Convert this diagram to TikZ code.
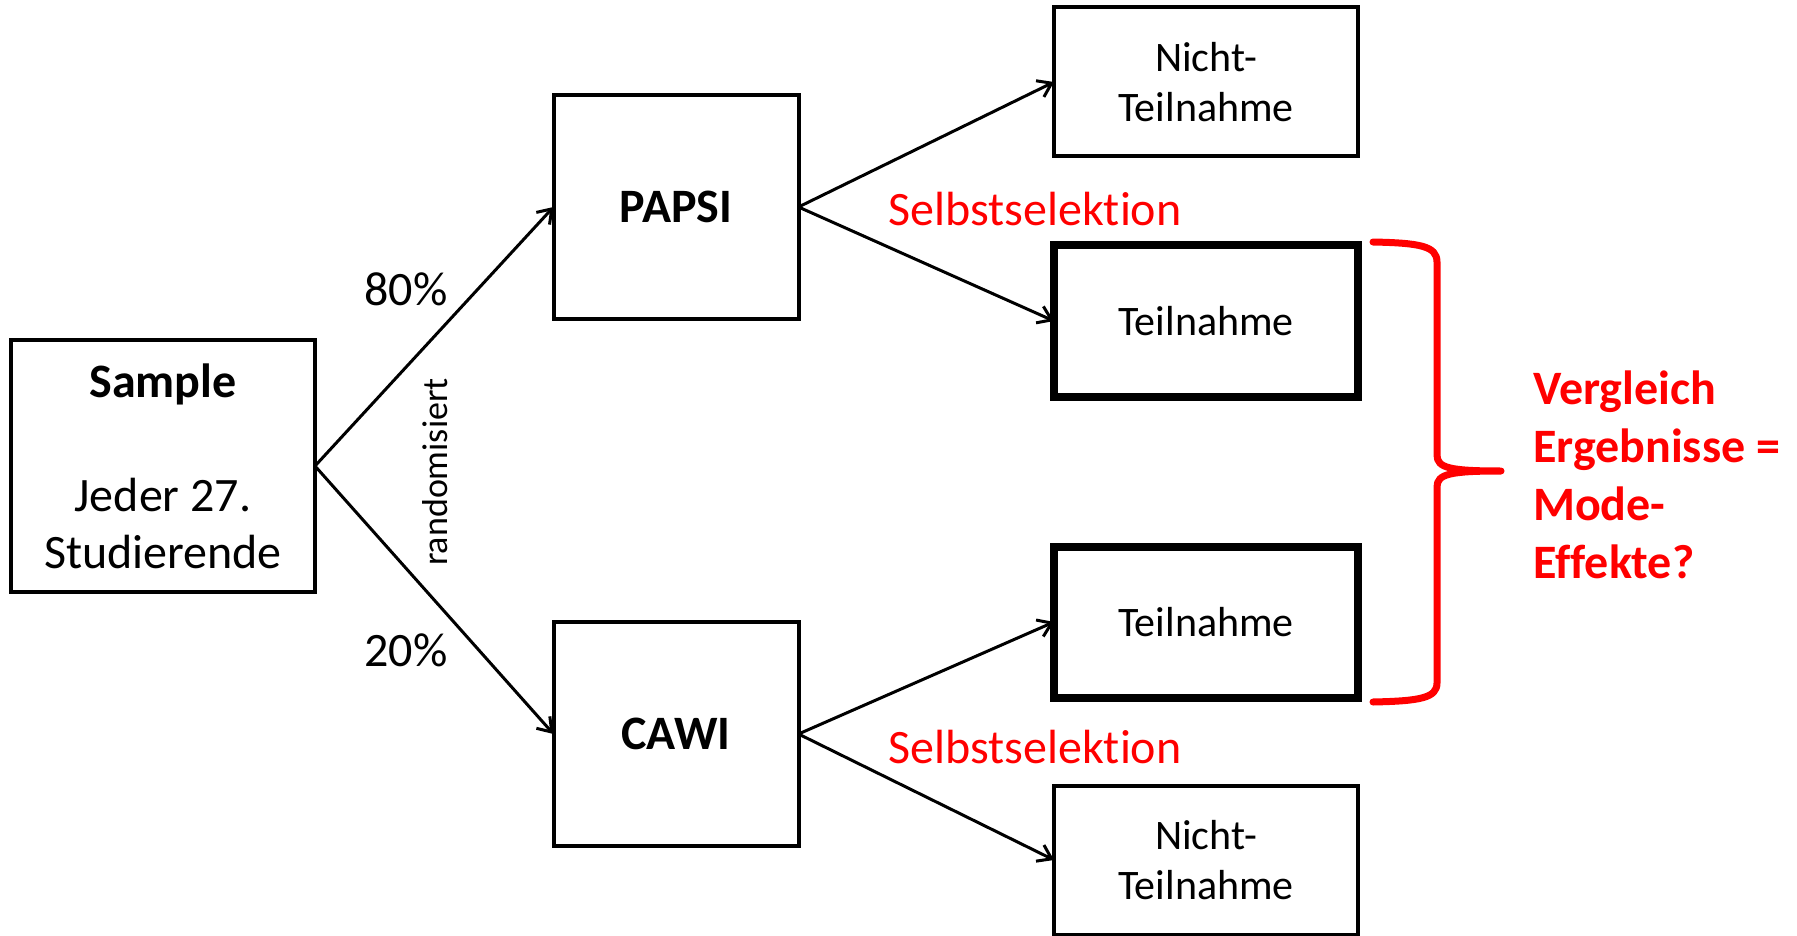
\documentclass[tikz,border=0pt]{standalone}
\usepackage{fontspec}
\setmainfont[Ligatures=NoCommon]{Carlito}
\usetikzlibrary{arrows.meta,shadows}
\definecolor{myred}{RGB}{255,0,0}
\begin{document}
\begin{tikzpicture}[x=1pt,y=-1pt,
  box/.style={draw=black,line width=4pt,fill=white,inner sep=0pt,outer sep=0pt,align=center,font=\fontsize{42}{50}\selectfont},
  thickbox/.style={box,line width=8pt,drop shadow={shadow xshift=2pt,shadow yshift=-4pt,opacity=0.25}},
  conn/.style={line width=3pt,-{Straight Barb[length=13pt,width=18pt,line width=3pt]}},
  lbl/.style={font=\fontsize{48}{57}\selectfont,inner sep=0pt},
  redlbl/.style={lbl,text=myred}]
\useasboundingbox (0,0) rectangle (1797,936);
\fill[white] (0,0) rectangle (1797,936);
\node[box,minimum width=304pt,minimum height=252pt,font=\fontsize{48}{57}\selectfont] (sample) at (163,466) {\textbf{Sample}\\[57pt]Jeder 27.\\Studierende};
\node[box,minimum width=245pt,minimum height=224pt,font=\fontsize{48}{57}\selectfont\bfseries] (papsi) at (676,207) {PAPSI};
\node[box,minimum width=245pt,minimum height=224pt,font=\fontsize{48}{57}\selectfont\bfseries] (cawi) at (676,734) {CAWI};
\node[box,minimum width=304pt,minimum height=149pt] (n1) at (1206,82) {Nicht-\\Teilnahme};
\node[thickbox,minimum width=304pt,minimum height=151pt] (t1) at (1206,321) {Teilnahme};
\node[thickbox,minimum width=304pt,minimum height=151pt] (t2) at (1206,622) {Teilnahme};
\node[box,minimum width=304pt,minimum height=149pt] (n2) at (1206,860) {Nicht-\\Teilnahme};
\draw[conn] (sample.east) -- (papsi.west);
\draw[conn] (sample.east) -- (cawi.west);
\draw[conn] (papsi.east) -- (n1.west);
\draw[conn] (papsi.east) -- (t1.west);
\draw[conn] (cawi.east) -- (t2.west);
\draw[conn] (cawi.east) -- (n2.west);
\node[lbl] (p80) at (406,289) {80\%};
\node[lbl] (p20) at (406,650) {20\%};
\node[lbl,font=\fontsize{36}{43}\selectfont,rotate=90] (rand) at (435,472) {randomisiert};
\node[redlbl] (s1) at (1035,209) {Selbstselektion};
\node[redlbl] (s2) at (1035,747) {Selbstselektion};
\draw[myred,line width=7pt,line cap=round,line join=round]
  (1373,242) .. controls (1420,243) and (1437,246) .. (1437,262)
  -- (1437,455) .. controls (1437,468) and (1450,471) .. (1501,471)
  .. controls (1450,471) and (1437,474) .. (1437,487)
  -- (1437,683) .. controls (1437,698) and (1420,701) .. (1373,702);
\node[redlbl,anchor=west,align=left,font=\fontsize{48}{58}\selectfont\bfseries] (cmp) at (1533,475) {Vergleich\\Ergebnisse =\\Mode-\\Effekte?};
\end{tikzpicture}
\end{document}
